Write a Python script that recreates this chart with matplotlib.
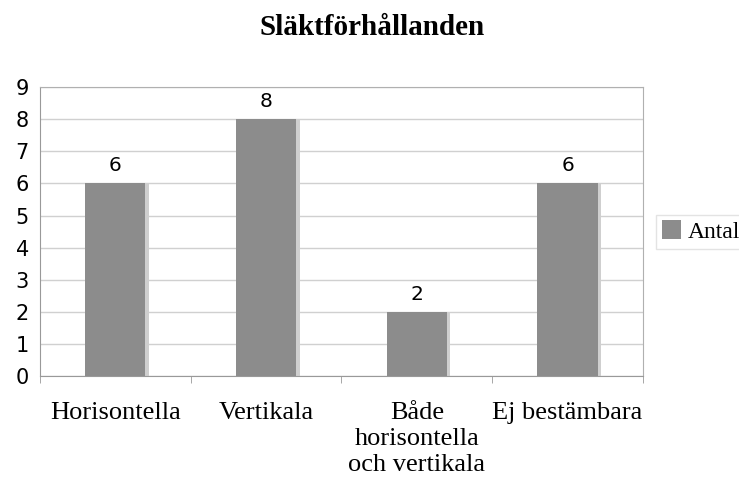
import numpy as np
import matplotlib.pyplot as plt

categories = ['Horisontella', 'Vertikala', 'Både\nhorisontella\noch vertikala', 'Ej bestämbara']
antal = [6, 8, 2, 6]

fig = plt.figure(figsize=(7.39, 4.79), dpi=100)
ax = fig.add_axes([0.054, 0.215, 0.816, 0.603])

x = np.arange(len(categories))
w = 0.4
# shadow behind the bars
ax.bar(x + 0.022, antal, width=w, color='#cfcfcf', zorder=2)
bars = ax.bar(x, antal, width=w, color='#8c8c8c', zorder=3, label='Antal')

for xi, v in zip(x, antal):
    ax.text(xi, v + 0.25, str(v), ha='center', va='bottom', fontsize=14.5,
            family='DejaVu Sans')

ax.set_xlim(-0.5, len(categories) - 0.5)
ax.set_ylim(0, 9)
ax.set_yticks(range(10))
ax.yaxis.grid(True, color='#d0d0d0', linewidth=1, zorder=0)
ax.set_axisbelow(True)

for s in ax.spines.values():
    s.set_color('#b0b0b0')
ax.spines['left'].set_color('#999999')
ax.spines['bottom'].set_color('#999999')

ax.tick_params(axis='y', length=0, labelsize=15, pad=8)
ax.set_xticks(x)
ax.set_xticklabels(categories, family='Liberation Serif', fontsize=19,
                   linespacing=1.22)
ax.tick_params(axis='x', length=0, pad=19)
ax.set_xticks(np.arange(-0.5, len(categories)), minor=True)
ax.tick_params(axis='x', which='minor', length=5, color='#999999')

fig.suptitle('Släktförhållanden', family='Liberation Serif', fontweight='bold',
             fontsize=21, x=0.503, y=0.97)

leg = ax.legend(loc='center left', bbox_to_anchor=(1.01, 0.5),
                prop={'family': 'Liberation Serif', 'size': 17},
                frameon=True, fancybox=False, handlelength=0.8, handleheight=0.8,
                handletextpad=0.3, borderpad=0.25, borderaxespad=0.3)
leg.get_frame().set_edgecolor('#dddddd')
leg.get_frame().set_linewidth(1)

fig.savefig('out.png', dpi=100)
